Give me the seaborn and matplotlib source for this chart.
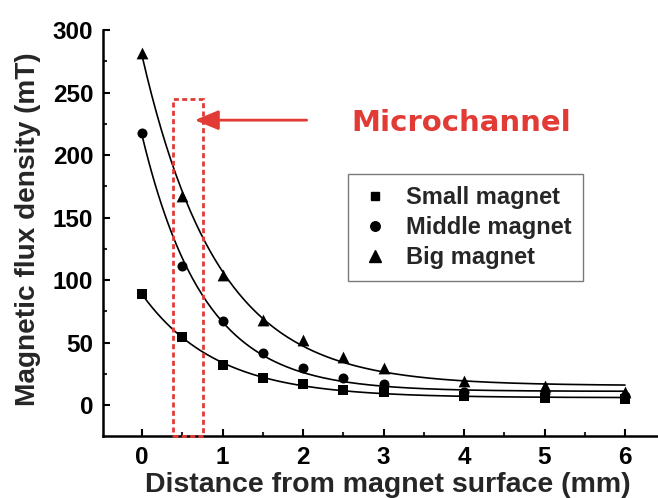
import numpy as np
import pandas as pd
import matplotlib
matplotlib.use("Agg")
import matplotlib.pyplot as plt
import seaborn as sns
from matplotlib.patches import Rectangle
from matplotlib.lines import Line2D

# ---- data ----
distance = [0, 0.5, 1, 1.5, 2, 2.5, 3, 4, 5, 6]
small = [88.8, 54.7, 32.0, 21.9, 17.3, 12.5, 10.3, 7.2, 5.6, 5.0]
middle = [218.0, 111.2, 67.7, 42.1, 29.9, 21.9, 17.3, 10.3, 9.6, 7.0]
big = [281.5, 167.5, 104.5, 68.0, 52.0, 38.7, 30.1, 19.5, 15.0, 10.5]
series_names = ["Small magnet", "Middle magnet", "Big magnet"]
x_ticks = [0, 1, 2, 3, 4, 5, 6]
y_ticks = [0, 50, 100, 150, 200, 250, 300]
channel_x = [0.38, 0.76]
channel_top = 245
annotation_text = "Microchannel"

RED = "#e23a35"

sns.set_theme(style="ticks")
plt.rcParams["font.family"] = ["Liberation Sans", "DejaVu Sans"]
plt.rcParams["font.weight"] = "bold"

df = pd.DataFrame({
    "distance": distance * 3,
    "flux": small + middle + big,
    "magnet": sum([[n] * len(distance) for n in series_names], []),
})


def fit_exp(x, y):
    x = np.asarray(x, float)
    y = np.asarray(y, float)
    best = None
    for tau in np.arange(0.1, 3.0, 0.002):
        M = np.column_stack([np.ones_like(x), np.exp(-x / tau)])
        coef, *_ = np.linalg.lstsq(M, y, rcond=None)
        err = np.sum((M @ coef - y) ** 2)
        if best is None or err < best[0]:
            best = (err, tau, coef)
    return best[1], best[2]


xs = np.linspace(0, 6, 300)
fit_rows = []
for name, vals in zip(series_names, [small, middle, big]):
    tau, (y0, A) = fit_exp(distance, vals)
    fit_rows.append(pd.DataFrame({"distance": xs, "flux": y0 + A * np.exp(-xs / tau), "magnet": name}))
fit_df = pd.concat(fit_rows)

fig = plt.figure(figsize=(6.58, 4.98), dpi=100)
ax = fig.add_axes([0.156, 0.1235, 0.844, 0.816])

sns.lineplot(data=fit_df, x="distance", y="flux", units="magnet", estimator=None,
             color="black", lw=1.2, ax=ax, legend=False, zorder=2)

markers = {"Small magnet": "s", "Middle magnet": "o", "Big magnet": "^"}
sizes = {"Small magnet": 44, "Middle magnet": 52, "Big magnet": 72}
for name in series_names:
    sub = df[df.magnet == name]
    sns.scatterplot(data=sub, x="distance", y="flux", marker=markers[name], s=sizes[name],
                    color="black", edgecolor="black", linewidth=0, ax=ax, zorder=3, legend=False)

ax.set_xlim(-0.49, 6.41)
ax.set_ylim(-25, 300)
ax.set_xticks(x_ticks)
ax.set_yticks(y_ticks)
ax.set_xticks(np.arange(0.5, 6.5, 1.0), minor=True)
ax.set_yticks(np.arange(25, 300, 50), minor=True)

for s in ["top", "right"]:
    ax.spines[s].set_visible(False)
for s in ["left", "bottom"]:
    ax.spines[s].set_linewidth(1.8)
    ax.spines[s].set_color("black")

ax.tick_params(axis="both", which="major", direction="in", length=5, width=1.5,
               labelsize=17.5, pad=6.8, colors="black")
ax.tick_params(axis="both", which="minor", direction="in", length=3, width=1.5)
for lab in ax.get_xticklabels() + ax.get_yticklabels():
    lab.set_fontweight("bold")

ax.set_xlabel("Distance from magnet surface (mm)", fontsize=20.5, fontweight="bold", va="baseline")
ax.set_ylabel("Magnetic flux density (mT)", fontsize=20.2, fontweight="bold", va="baseline")
ax.xaxis.set_label_coords(0.513, -0.136)
ax.yaxis.set_label_coords(-0.122, 0.509)

# microchannel box
rect = Rectangle((channel_x[0], -25), channel_x[1] - channel_x[0], channel_top + 25,
                 fill=False, edgecolor=RED, lw=2.0, linestyle=(0, (1.8, 1.2)),
                 clip_on=False, zorder=4)
ax.add_patch(rect)

ax.annotate("", xy=(0.655, 228), xytext=(2.045, 228),
            arrowprops=dict(arrowstyle="-|>,head_length=1.2,head_width=0.5",
                            color=RED, lw=2.0, shrinkA=0, shrinkB=0), zorder=5)
ax.text(2.6, 226, annotation_text, color=RED, fontsize=21, fontweight="bold",
        family=["DejaVu Sans"], ha="left", va="center")

handles = [Line2D([], [], linestyle="none", marker=markers[n], color="black",
                  markersize=np.sqrt(sizes[n]) * 0.95, label=n) for n in series_names]
leg = ax.legend(handles=handles, loc="upper left", bbox_to_anchor=(0.4417, 0.6455),
                borderaxespad=0, frameon=True, fancybox=False, edgecolor="#7a7a7a",
                framealpha=1, prop={"size": 17, "weight": "bold"}, handlelength=1.25,
                handletextpad=0.7, labelspacing=0.3, borderpad=0.5)
leg.get_frame().set_linewidth(1.0)

fig.savefig("out.png", dpi=100)
